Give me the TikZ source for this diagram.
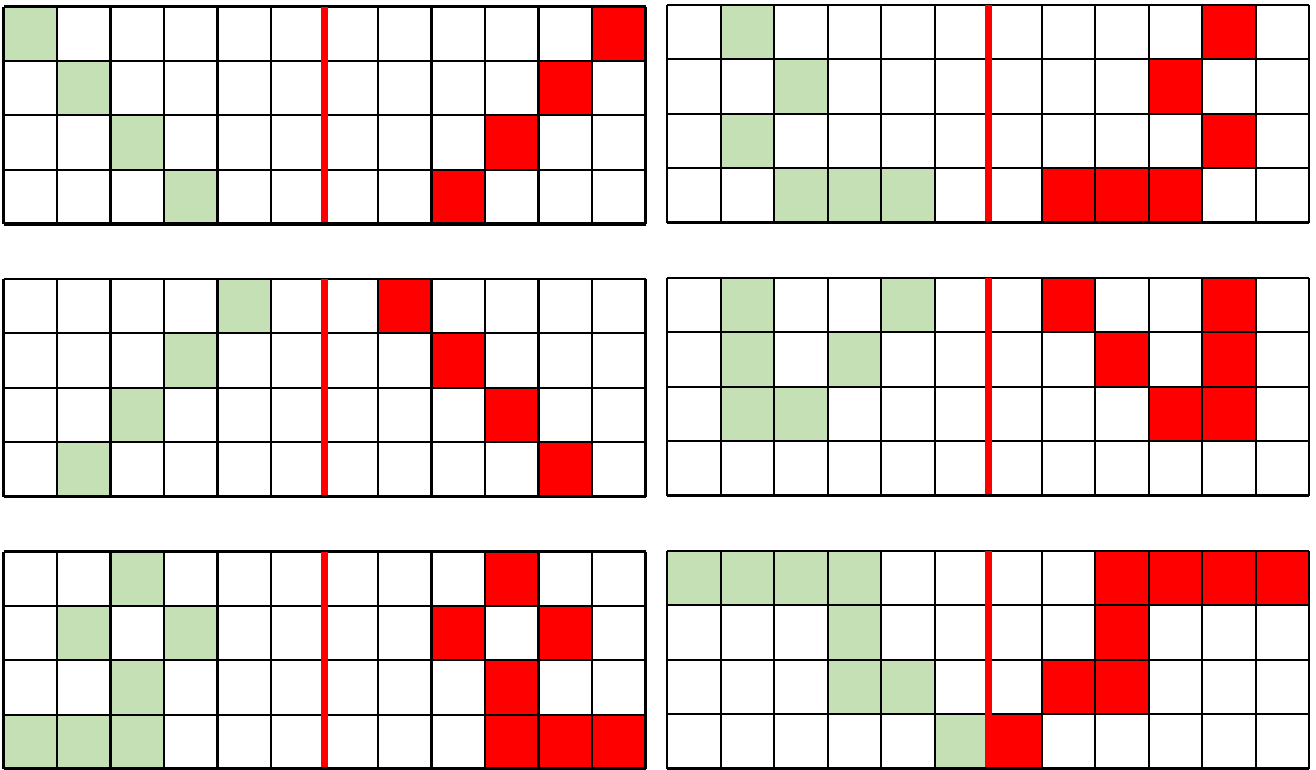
\documentclass[tikz,border=0pt]{standalone}
\usepackage{tikz}
\definecolor{cellgreen}{HTML}{C5E0B4}
\definecolor{cellred}{HTML}{FF0000}
\tikzset{
  gcell/.style={fill=cellgreen},
  rcell/.style={fill=cellred},
  gridline/.style={draw=black, line width=2.1pt},
  baseline rule/.style={draw=black, line width=3.4pt},
  divider/.style={draw=cellred, line width=6.5pt}
}
\newcommand\cellgrid[4]{%
  \begin{scope}[shift={(#1,#2)}]
    \foreach \ri/\ci in {#3} \path[gcell] (\ci*53.5,\ri*54.4) rectangle ++(53.5,54.4);
    \foreach \ri/\ci in {#4} \path[rcell] (\ci*53.5,\ri*54.4) rectangle ++(53.5,54.4);
    \foreach \ri in {0,1,2,3} \draw[gridline] (0,\ri*54.4) -- (642,\ri*54.4);
    \foreach \ci in {0,1,2,3,4,5,7,8,9,10,11,12} \draw[gridline] (\ci*53.5,0) -- (\ci*53.5,217.6);
    \draw[divider] (321,0) -- (321,217.6);
    \draw[baseline rule] (0,217.6) -- (642,217.6);
  \end{scope}}
\begin{document}
\begin{tikzpicture}[x=1pt,y=-1pt]
\useasboundingbox (0,0) rectangle (1316,769);
% top-left
\cellgrid{3.5}{6.5}{0/0,1/1,2/2,3/3}{0/11,1/10,2/9,3/8}
% top-right
\cellgrid{667.3}{5}{0/1,1/2,2/1,3/2,3/3,3/4}{0/10,1/9,2/10,3/7,3/8,3/9}
% middle-left
\cellgrid{3.5}{279}{0/4,1/3,2/2,3/1}{0/7,1/8,2/9,3/10}
% middle-right
\cellgrid{667.3}{278}{0/1,0/4,1/1,1/3,2/1,2/2}{0/7,0/10,1/8,1/10,2/9,2/10}
% bottom-left
\cellgrid{3.5}{551.5}{0/2,1/1,1/3,2/2,3/0,3/1,3/2}{0/9,1/8,1/10,2/9,3/9,3/10,3/11}
% bottom-right
\cellgrid{667.3}{551}{0/0,0/1,0/2,0/3,1/3,2/3,2/4,3/5}{0/8,0/9,0/10,0/11,1/8,2/7,2/8,3/6}
\end{tikzpicture}
\end{document}
